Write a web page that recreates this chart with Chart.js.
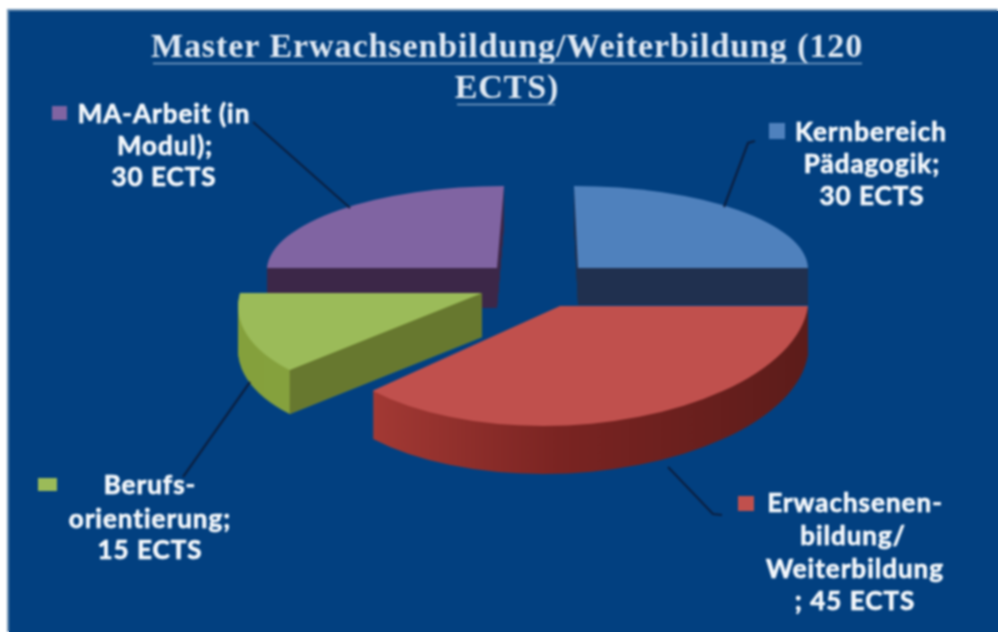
<!DOCTYPE html>
<html>
<head>
<meta charset="utf-8">
<style>
  html, body { margin: 0; padding: 0; background: #fff; overflow: hidden; }
  #wrap { position: absolute; left: 0; top: 0; width: 998px; height: 632px; }
  #backing { position: absolute; left: 9px; top: 11px; right: 0; bottom: 0; background: #024080; }
  canvas { position: absolute; left: 0; top: 0; filter: blur(0.8px); }
</style>
<script src="https://cdn.jsdelivr.net/npm/chart.js@4"></script>
</head>
<body>
<div id="wrap"><div id="backing"></div><canvas id="pie-chart" width="998" height="632"></canvas></div>
<script>
const categories = ["Kernbereich Pädagogik", "Erwachsenenbildung/Weiterbildung", "Berufsorientierung", "MA-Arbeit (in Modul)"];
const ects = [30, 45, 15, 30];
const sliceColors = ["#4f81bd", "#c0504d", "#9bbb59", "#8064a2"];
const titleLines = ["Master Erwachsenbildung/Weiterbildung (120", "ECTS)"];

// the original is a perspective 3D pie, so every slice gets its own squash + offset
const sliceLayout = [
  { ax: 578, ay: 268, rx: 230, ry: 82, shear: 4, depth: 37, side: ["#20304f", "#20304f"] },
  { ax: 560, ay: 306, rx: 248, ry: 120, shear: -17, depth: 48, side: ["#b0403a", "#7a2422", "#5c1c1a"] },
  { ax: 482, ay: 293, rx: 242, ry: 109, shear: -30, depth: 44, side: ["#84a03c", "#96b04c"], cut: "#67782f" },
  { ax: 497, ay: 268, rx: 230, ry: 82, shear: -7, depth: 40, side: ["#3c2748", "#3c2748"] }
];
const drawOrder = [0, 3, 2, 1];

const labelBlocks = [
  { lines: [["Kernbereich", 871, 133], ["Pädagogik;", 872, 165], ["30 ECTS", 872, 197]], box: [769, 123, 16, 16], leader: [[755, 141], [748, 143], [724, 207]] },
  { lines: [["Erwachsenen-", 855, 504], ["bildung/", 853, 537], ["Weiterbildung", 855, 570], ["; 45 ECTS", 855, 602]], box: [738, 496, 16, 15], leader: [[668, 467], [713, 514], [722, 515]] },
  { lines: [["Berufs-", 150, 486], ["orientierung;", 150, 520], ["15 ECTS", 150, 551]], box: [38, 478, 19, 13], leader: [[250, 382], [183, 477]] },
  { lines: [["MA-Arbeit (in", 164, 115], ["Modul);", 165, 147], ["30 ECTS", 164, 178]], box: [52, 106, 15, 14], leader: [[253, 122], [350, 208]] }
];

function slicePath(ctx, arc, s, dy) {
  const R = arc.outerRadius;
  ctx.save();
  ctx.translate(s.ax, s.ay + dy);
  ctx.transform(s.rx / R, 0, s.shear / R, s.ry / R, 0, 0);
  ctx.translate(-arc.x, -arc.y);
  ctx.beginPath();
  ctx.moveTo(arc.x, arc.y);
  ctx.arc(arc.x, arc.y, R, arc.startAngle, arc.endAngle);
  ctx.closePath();
  ctx.restore();
}

const panelPlugin = {
  id: "panel",
  beforeDraw(chart) {
    const ctx = chart.ctx;
    ctx.save();
    ctx.fillStyle = "#6d90b2";
    ctx.fillRect(7, 9, 991, 623);
    ctx.fillStyle = "#024080";
    ctx.fillRect(9, 11, 989, 621);
    ctx.restore();
    ctx.letterSpacing = "0.9px"; // for the title, the library has no option for it
  }
};

const pie3dPlugin = {
  id: "pie3d",
  beforeDatasetDraw(chart, args) {
    const ctx = chart.ctx;
    const arcs = args.meta.data;
    drawOrder.forEach(function (i) {
      const arc = arcs[i];
      const s = sliceLayout[i];

      const grad = ctx.createLinearGradient(s.ax - s.rx, 0, s.ax + s.rx, 0);
      s.side.forEach(function (c, k) {
        grad.addColorStop(k / (s.side.length - 1), c);
      });
      ctx.fillStyle = grad;
      for (let d = s.depth; d > 0; d--) {
        slicePath(ctx, arc, s, d);
        ctx.fill();
      }

      // green slice shows its cut face towards the viewer
      if (s.cut) {
        const tipX = s.ax + s.rx * Math.cos(arc.startAngle) + s.shear * Math.sin(arc.startAngle);
        const tipY = s.ay + s.ry * Math.sin(arc.startAngle);
        ctx.fillStyle = s.cut;
        ctx.beginPath();
        ctx.moveTo(s.ax, s.ay);
        ctx.lineTo(tipX, tipY);
        ctx.lineTo(tipX, tipY + s.depth);
        ctx.lineTo(s.ax, s.ay + s.depth);
        ctx.closePath();
        ctx.fill();
      }

      slicePath(ctx, arc, s, 0);
      ctx.fillStyle = arc.options.backgroundColor;
      ctx.fill();
    });
    return false;
  }
};

const labelsPlugin = {
  id: "sliceLabels",
  afterDraw(chart) {
    const ctx = chart.ctx;
    ctx.save();

    // title underline
    ctx.strokeStyle = "#7fa3c8";
    ctx.lineWidth = 1.5;
    ctx.beginPath();
    ctx.moveTo(153, 63.5);
    ctx.lineTo(862, 63.5);
    ctx.moveTo(457, 104.5);
    ctx.lineTo(555, 104.5);
    ctx.stroke();

    labelBlocks.forEach(function (block, i) {
      ctx.strokeStyle = "#0b1f40";
      ctx.lineWidth = 2.2;
      ctx.beginPath();
      block.leader.forEach(function (p, k) {
        if (k === 0) ctx.moveTo(p[0], p[1]);
        else ctx.lineTo(p[0], p[1]);
      });
      ctx.stroke();

      ctx.fillStyle = sliceColors[i];
      ctx.fillRect(block.box[0], block.box[1], block.box[2], block.box[3]);

      ctx.fillStyle = "#f4f8fc";
      ctx.strokeStyle = "#f4f8fc";
      ctx.lineWidth = 0.7;
      ctx.font = "bold 26px Lato";
      ctx.letterSpacing = "1px";
      ctx.textAlign = "center";
      ctx.textBaseline = "middle";
      block.lines.forEach(function (l) {
        ctx.fillText(l[0], l[1], l[2]);
        ctx.strokeText(l[0], l[1], l[2]);
      });
    });
    ctx.restore();
  }
};

new Chart(document.getElementById("pie-chart").getContext("2d"), {
  type: "pie",
  data: {
    labels: categories,
    datasets: [{
      data: ects,
      backgroundColor: sliceColors,
      borderWidth: 0
    }]
  },
  options: {
    responsive: false,
    animation: false,
    layout: { padding: { left: 16, top: 10 } },
    plugins: {
      legend: { display: false },
      tooltip: { enabled: false },
      title: {
        display: true,
        text: titleLines,
        color: "#dfe8f2",
        font: { family: "Liberation Serif", size: 34, weight: "bold", lineHeight: 1.2 },
        padding: { top: 18, bottom: 10 }
      }
    }
  },
  plugins: [panelPlugin, pie3dPlugin, labelsPlugin]
});
</script>
</body>
</html>
